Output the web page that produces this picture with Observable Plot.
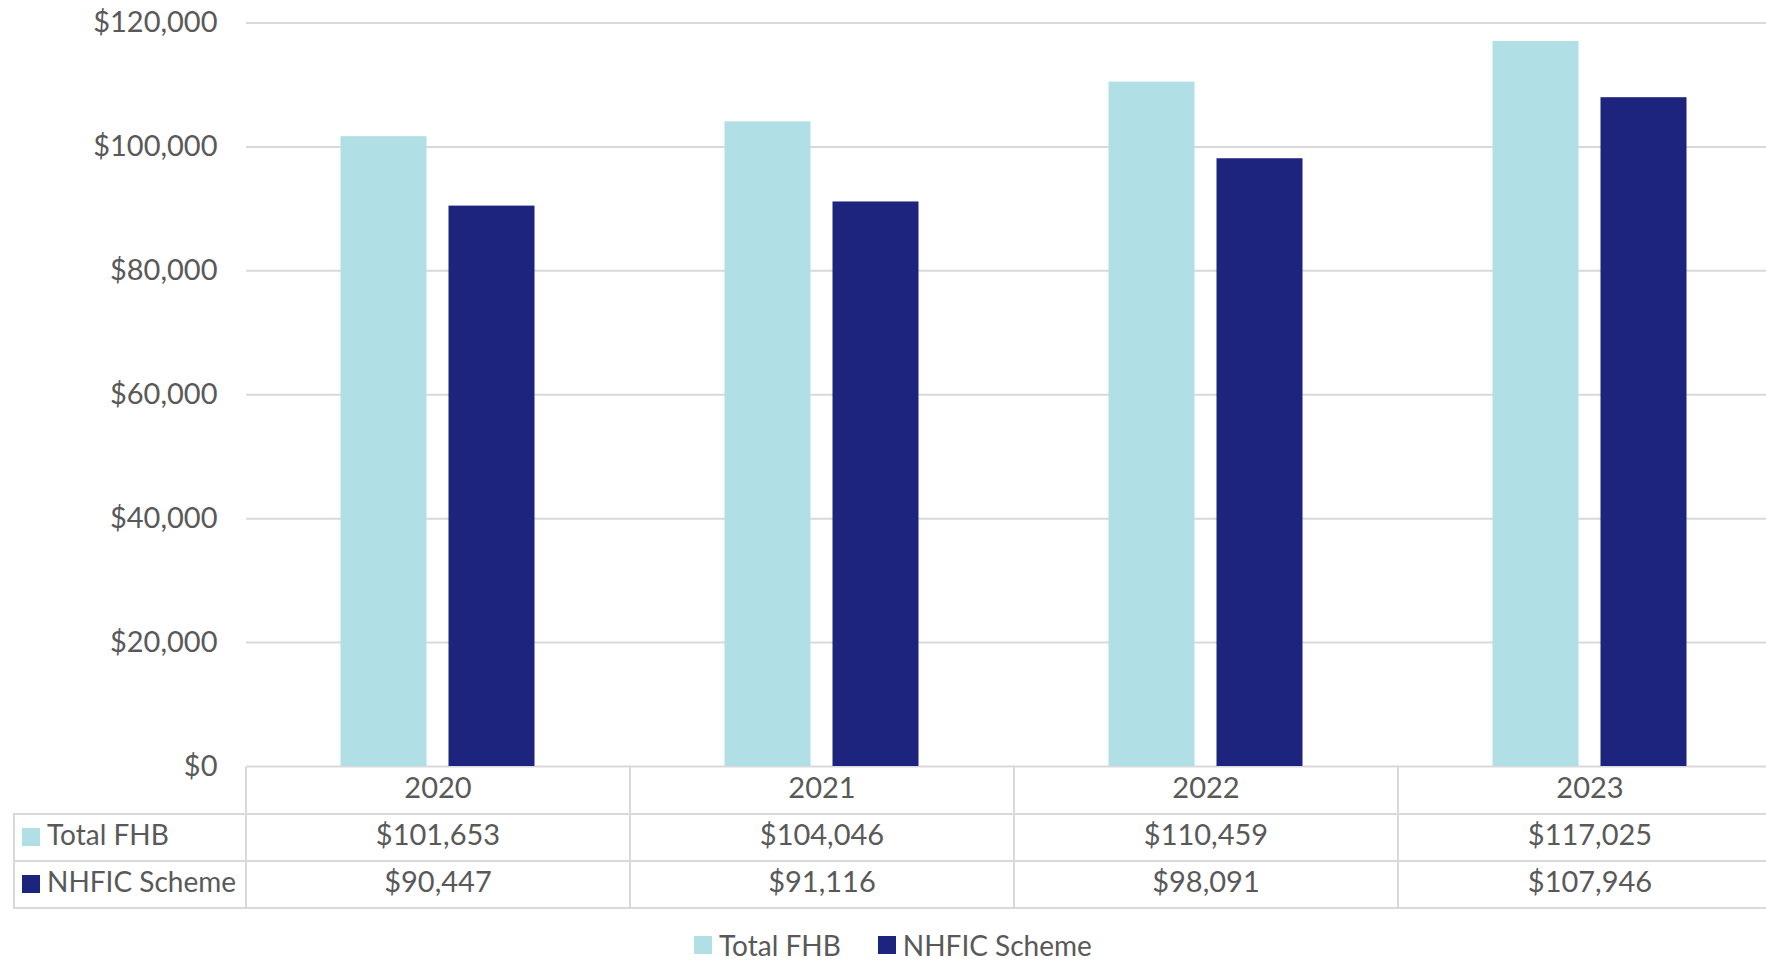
<!DOCTYPE html>
<html><head><meta charset="utf-8">
<script src="https://cdn.jsdelivr.net/npm/d3@7"></script>
<script src="https://cdn.jsdelivr.net/npm/@observablehq/plot@0.6"></script>
<style>
html,body{margin:0;padding:0;background:#fff;overflow:hidden;width:1766px;height:960px;}
body{font-family:Lato,sans-serif;color:#595959;}
#chart svg{display:block;max-width:none;overflow:visible;}
#table{position:relative;}
table{border-collapse:collapse;table-layout:fixed;margin-left:13px;width:1768px;font-size:29px;color:#595959;}
td{border:2px solid #d9d9d9;text-align:center;padding:0 0 8px 0;white-space:nowrap;line-height:1;}
tr{height:47px;}
tr.head td{border-top:none;}
tr.head td.blank{border-left:none;}
td.lab{text-align:left;padding-left:7px;font-size:28px;}
.sw{display:inline-block;width:18px;height:18px;margin-right:7px;vertical-align:-1px;}
#legend{box-sizing:border-box;height:52px;padding-top:20px;padding-left:694px;font-size:28px;color:#595959;display:flex;align-items:center;}
#legend .item{display:flex;align-items:center;margin-right:37px;height:30px;}
#legend .sw{margin-right:7px;}
</style></head>
<body>
<div id="chart"></div>
<div id="table"></div>
<div id="legend"></div>
<script>
const years = ["2020", "2021", "2022", "2023"];
const series = ["Total FHB", "NHFIC Scheme"];
const totalFHB = [101653, 104046, 110459, 117025];
const nhficScheme = [90447, 91116, 98091, 107946];
const yTicks = [0, 20000, 40000, 60000, 80000, 100000, 120000];
const colors = ["#B0DFE5", "#1D247D"];

const seriesValues = [totalFHB, nhficScheme];
const data = years.flatMap((year, i) => series.map((s, j) => ({year, series: s, value: seriesValues[j][i]})));
const fmt = d => "$" + d3.format(",")(d);

const chart = Plot.plot({
  width: 1766, height: 767,
  marginTop: 22.5, marginBottom: 1, marginLeft: 245.5, marginRight: 0,
  style: {fontFamily: "Lato, sans-serif", fontSize: "29px", color: "#595959", background: "transparent", overflow: "visible"},
  fx: {domain: years, range: [245.5, 1781.9], padding: 0, axis: null},
  x: {domain: series, paddingInner: 0.2, paddingOuter: 0.867, axis: null},
  y: {domain: [0, 120000]},
  color: {domain: series, range: colors},
  marks: [
    Plot.gridY(yTicks, {stroke: "#d9d9d9", strokeOpacity: 1, strokeWidth: 2}),
    Plot.barY(data, {fx: "year", x: "series", y: "value", fill: "series"}),
    Plot.axisY(yTicks, {tickSize: 0, tickPadding: 29, tickFormat: fmt, label: null})
  ]
});
document.getElementById("chart").appendChild(chart);

// data table below the chart
let html = '<table><colgroup><col style="width:232px">' + years.map(() => '<col style="width:384px">').join("") + '</colgroup>';
html += '<tr class="head"><td class="blank"></td>' + years.map(y => `<td>${y}</td>`).join("") + '</tr>';
series.forEach((s, j) => {
  html += `<tr><td class="lab"><span class="sw" style="background:${colors[j]}"></span>${s}</td>` +
    seriesValues[j].map(v => `<td>${fmt(v)}</td>`).join("") + '</tr>';
});
html += '</table>';
document.getElementById("table").innerHTML = html;

document.getElementById("legend").innerHTML = series.map((s, j) =>
  `<span class="item"><span class="sw" style="background:${colors[j]}"></span>${s}</span>`).join("");
</script>
</body></html>
